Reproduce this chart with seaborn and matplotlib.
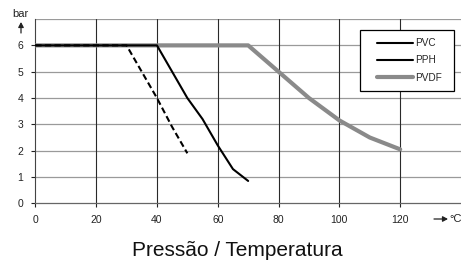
import matplotlib
matplotlib.use("Agg")
import matplotlib.pyplot as plt
import matplotlib.patches as mpatches
import seaborn as sns
import pandas as pd
from matplotlib.lines import Line2D

sns.set_theme(style="white")
plt.rcParams['font.family'] = ['Liberation Sans', 'DejaVu Sans']

# Data
pvc_temp = [0, 30, 35, 40, 45, 50]
pvc_bar = [6, 6, 5, 4, 2.9, 1.9]
pph_temp = [0, 40, 50, 55, 60, 65, 70]
pph_bar = [6, 6, 4, 3.2, 2.2, 1.3, 0.85]
pvdf_temp = [0, 70, 80, 90, 100, 110, 120]
pvdf_bar = [6, 6, 5, 4, 3.15, 2.5, 2.05]
x_ticks = [0, 20, 40, 60, 80, 100, 120]
y_ticks = [0, 1, 2, 3, 4, 5, 6]
series_names = ["PVC", "PPH", "PVDF"]
title = "Pressão / Temperatura"

W, H = 461, 261
fig = plt.figure(figsize=(4.61, 2.61), dpi=100)
ax = fig.add_axes([0.0766, 0.221, 0.9234, 0.706])

# grid
for yv in [1, 2, 3, 4, 5, 6, 7]:
    ax.axhline(yv, color="#9a9a9a", lw=0.9, zorder=1)
for xv in [20, 40, 60, 80, 100, 120]:
    ax.axvline(xv, color="#2a2a2a", lw=0.8, zorder=1)

gray = "#8a8a8a"
sns.lineplot(x=pvdf_temp, y=pvdf_bar, ax=ax, color=gray, lw=3.0, zorder=3)
sns.lineplot(x=pph_temp, y=pph_bar, ax=ax, color="black", lw=1.5, zorder=4)
sns.lineplot(x=pvc_temp, y=pvc_bar, ax=ax, color="black", lw=1.5, zorder=4,
             dashes=False, linestyle=(0, (3, 1.6)))

ax.set_xlim(0, 140)
ax.set_ylim(0, 7)
ax.set_xticks(x_ticks)
ax.set_yticks(y_ticks)
ax.tick_params(axis="both", labelsize=7.5, length=3, width=0.8, colors="#222222",
               direction="out", left=True, bottom=True)
ax.tick_params(axis="x", pad=5.5)
ax.tick_params(axis="y", pad=5.5)
for s in ["top", "right"]:
    ax.spines[s].set_visible(False)
ax.spines["left"].set_color("#444444")
ax.spines["left"].set_linewidth(0.8)
ax.spines["bottom"].set_color("#666666")
ax.spines["bottom"].set_linewidth(0.9)
ax.set_xlabel("")
ax.set_ylabel("")

# legend frame
frame = mpatches.Rectangle((360 / W, 1 - 91 / H), 94 / W, 61 / H, transform=fig.transFigure,
                           facecolor="white", edgecolor="black", lw=0.9, zorder=5)
fig.add_artist(frame)

handles = [Line2D([], [], color="black", lw=1.5),
           Line2D([], [], color="black", lw=1.5),
           Line2D([], [], color=gray, lw=3.0)]
leg = fig.legend(handles, series_names, loc="upper left",
                 bbox_to_anchor=(376.7 / W, 1 - 38 / H), bbox_transform=fig.transFigure,
                 borderaxespad=0, borderpad=0, fontsize=7.2, frameon=False,
                 handlelength=3.6, handletextpad=0.25, labelspacing=0.74)
leg.set_zorder(6)

# axis annotations
fig.text(20 / W, 1 - 14 / H, "bar", fontsize=8, ha="center", va="center", color="#222222")
fig.add_artist(mpatches.FancyArrowPatch(
    (21 / W, 1 - 33 / H), (21 / W, 1 - 22 / H), transform=fig.transFigure,
    arrowstyle="-|>,head_length=3,head_width=1.6", color="#222222", lw=0.9,
    shrinkA=0, shrinkB=0))
fig.add_artist(mpatches.FancyArrowPatch(
    (434 / W, 1 - 219 / H), (448 / W, 1 - 219 / H), transform=fig.transFigure,
    arrowstyle="-|>,head_length=3,head_width=1.6", color="#222222", lw=0.9,
    shrinkA=0, shrinkB=0))
fig.text(449 / W, 1 - 219 / H, "\u00b0C", fontsize=8, ha="left", va="center",
         color="#222222")
fig.text(237 / W, 1 - 250 / H, title, fontsize=15, ha="center", va="center", color="#111111")

fig.savefig("out.png", dpi=100)
